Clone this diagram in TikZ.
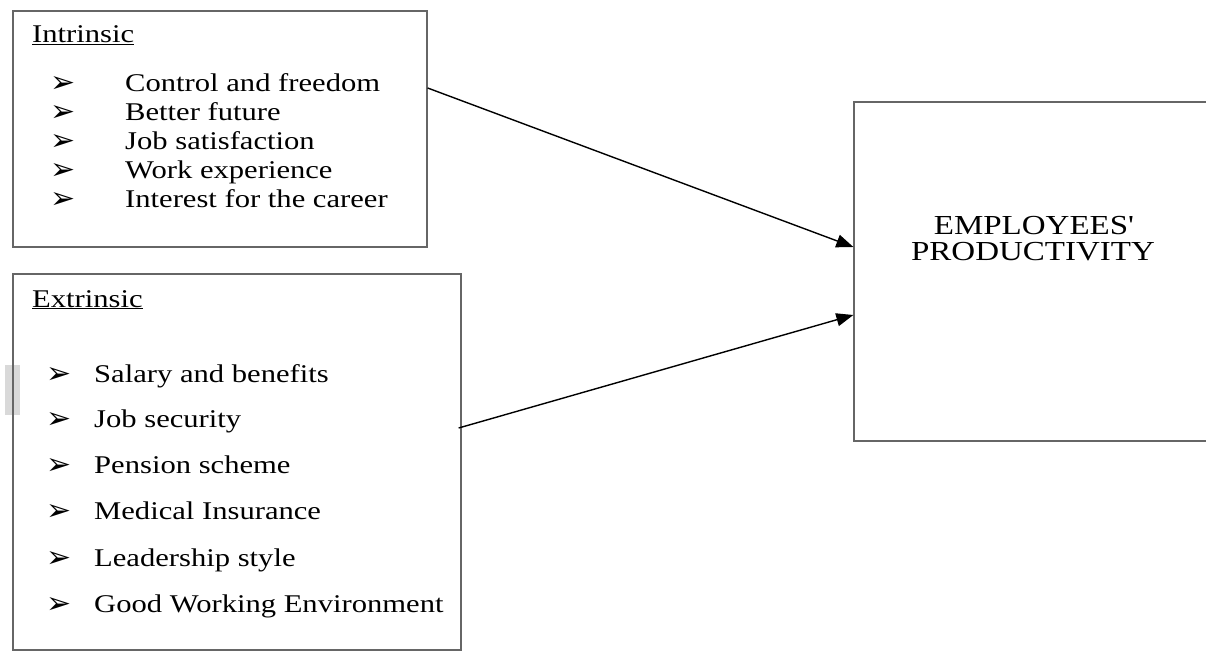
\documentclass[tikz,border=0pt]{standalone}
\usepackage{fontspec}
\setmainfont{Liberation Serif}
\newfontfamily\dejavu{DejaVu Sans}
\usetikzlibrary{arrows.meta}
\newcommand\sxx[1]{\scalebox{1.2}[1]{#1}}
\begin{document}
\begin{tikzpicture}[x=1pt,y=-1pt,
 box/.style={draw=black!60, line width=1.3pt, rectangle, inner sep=0pt},
 txt/.style={anchor=base west, inner sep=0pt, font=\fontsize{25.5}{30}\selectfont},
 bul/.style={anchor=base west, inner sep=0pt, font=\dejavu\fontsize{30}{32}\selectfont},
 big/.style={anchor=base, inner sep=0pt, font=\fontsize{27.5}{30}\selectfont},
 conn/.style={draw=black, line width=1.4pt, -{Triangle[length=17pt,width=13pt]}}]
\useasboundingbox (0,0) rectangle (1206,652);
\clip (0,0) rectangle (1206,652);
\fill[white] (0,0) rectangle (1206,652);
\fill[black!15] (5,365) rectangle (20,415);
% boxes
\node[box, minimum width=414pt, minimum height=236pt] (intr) at (220,129) {};
\node[box, minimum width=448pt, minimum height=376pt] (extr) at (237,462) {};
\node[box, minimum width=380pt, minimum height=339pt] (prod) at (1044,271.5) {};
% intrinsic
\node[txt] (ti) at (32,43) {\sxx{\underline{Intrinsic}}};
\node[bul] (b1) at (50,93) {➢};
\node[bul] (b2) at (50,122) {➢};
\node[bul] (b3) at (50,151) {➢};
\node[bul] (b4) at (50,180) {➢};
\node[bul] (b5) at (50,209) {➢};
\node[txt] (i1) at (125,92) {\sxx{Control and freedom}};
\node[txt] (i2) at (125,121) {\sxx{Better future}};
\node[txt] (i3) at (125,150) {\sxx{Job satisfaction}};
\node[txt] (i4) at (125,179) {\sxx{Work experience}};
\node[txt] (i5) at (125,208) {\sxx{Interest for the career}};
% extrinsic
\node[txt] (te) at (32,307) {\sxx{\underline{Extrinsic}}};
\node[bul] (c1) at (46,383) {➢};
\node[bul] (c2) at (46,428) {➢};
\node[bul] (c3) at (46,474) {➢};
\node[bul] (c4) at (46,520) {➢};
\node[bul] (c5) at (46,567) {➢};
\node[bul] (c6) at (46,613) {➢};
\node[txt] (e1) at (94,382) {\sxx{Salary and benefits}};
\node[txt] (e2) at (94,427) {\sxx{Job security}};
\node[txt] (e3) at (94,473) {\sxx{Pension scheme}};
\node[txt] (e4) at (94,519) {\sxx{Medical Insurance}};
\node[txt] (e5) at (94,566) {\sxx{Leadership style}};
\node[txt] (e6) at (94,612) {\sxx{Good Working Environment}};
% productivity
\node[big] (p1) at (1034,235) {\sxx{EMPLOYEES\textquotesingle}};
\node[big] (p2) at (1033,260) {\sxx{PRODUCTIVITY}};
% connectors
\coordinate (s1) at ([yshift=41pt]intr.east);
\coordinate (s2) at ([yshift=34pt,xshift=-3pt]extr.east);
\coordinate (t1) at ([yshift=24.5pt]prod.west);
\coordinate (t2) at ([yshift=-43.5pt]prod.west);
\draw[conn] (s1) -- (t1);
\draw[conn] (s2) -- (t2);
\end{tikzpicture}
\end{document}
